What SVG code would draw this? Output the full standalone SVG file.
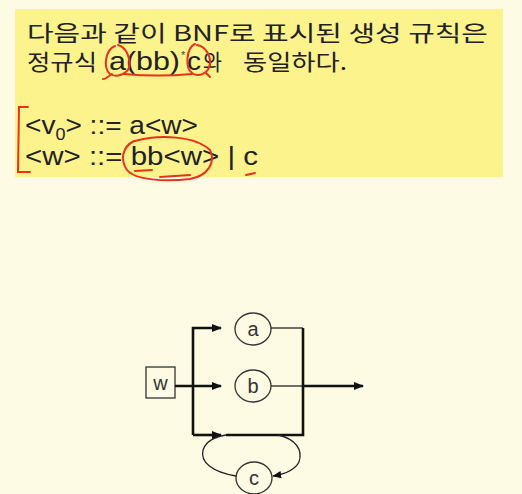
<svg xmlns="http://www.w3.org/2000/svg" width="522" height="494" viewBox="0 0 522 494">
<defs>
<style>
.ko{font-family:"Noto Sans CJK KR","Noto Sans",sans-serif;font-size:22px;fill:#222}
.la{font-family:"Liberation Sans",Arial,sans-serif;font-size:25px;fill:#222}
.sm{font-family:"Liberation Sans",Arial,sans-serif;font-size:11px;fill:#444}
.nl{font-family:"Liberation Sans",Arial,sans-serif;font-size:20px;fill:#333;text-anchor:middle}
.red{fill:none;stroke:#e8321e;stroke-width:2;stroke-linecap:round}
.thick{fill:none;stroke:#111;stroke-width:2.6}
.thin{fill:none;stroke:#222;stroke-width:1.3}
.node{fill:none;stroke:#333;stroke-width:1.3}
</style>
<marker id="ah" viewBox="0 0 10 10" refX="9" refY="5" markerWidth="4" markerHeight="4" orient="auto" markerUnits="strokeWidth">
<path d="M0,1 L10,5 L0,9 z" fill="#111"/>
</marker>
<marker id="ah2" viewBox="0 0 10 10" refX="9" refY="5" markerWidth="7" markerHeight="7" orient="auto" markerUnits="strokeWidth">
<path d="M0,1 L10,5 L0,9 z" fill="#111"/>
</marker>
</defs>
<rect width="522" height="494" fill="#fdfbe3"/>
<rect x="15" y="9" width="488" height="168" fill="#fcf38c"/>

<g id="text">
<text class="ko" x="27" y="41" textLength="461" lengthAdjust="spacingAndGlyphs">다음과 같이 BNF로 표시된 생성 규칙은</text>
<text class="ko" x="27" y="70" textLength="70" lengthAdjust="spacingAndGlyphs">정규식</text>
<text class="la" x="109" y="70" textLength="71" lengthAdjust="spacingAndGlyphs">a(bb)</text>
<text class="sm" x="181" y="59">*</text>
<text class="la" x="187" y="70" textLength="14" lengthAdjust="spacingAndGlyphs">c</text>
<text class="ko" x="203" y="70" textLength="19" lengthAdjust="spacingAndGlyphs">와</text>
<text class="ko" x="243" y="70" textLength="104" lengthAdjust="spacingAndGlyphs">동일하다.</text>
<text class="la" x="25" y="134" textLength="173" lengthAdjust="spacingAndGlyphs">&lt;v<tspan style="font-size:16px" dy="6">0</tspan><tspan dy="-6">&gt; ::= a&lt;w&gt;</tspan></text>
<text class="la" x="25" y="165" textLength="233" lengthAdjust="spacingAndGlyphs">&lt;w&gt; ::= bb&lt;w&gt; | c</text>
</g>

<g id="annotations">
<path class="red" d="M28,107 L19,107 L18,172 L30,172"/>
<path class="red" d="M115,46 C105,50 103,68 110,74 C117,78 126,74 129,68 C131,58 126,47 118,45"/>
<path class="red" d="M112,74 C106,78 104,80 103,79"/>
<path class="red" d="M124,74 C145,76 170,76 192,74"/>
<path class="red" d="M195,44 C186,48 185,68 192,73 C199,78 208,73 210,65 C211,55 205,46 197,45 M206,73 L210,77"/>
<path class="red" d="M135,141 C160,134 195,136 210,150 C216,162 208,176 190,179 C165,182 135,180 127,170 C120,160 122,147 134,141"/>
<path class="red" d="M135,171 L152,170 M160,177 L190,175"/>
<path class="red" d="M246,175 L255,173"/>
</g>

<g id="w">
<rect class="node" x="146" y="367" width="29" height="31"/>
<text class="nl" x="160.5" y="390">w</text>
</g>
<g id="a">
<ellipse class="node" cx="253" cy="329" rx="18" ry="16"/>
<text class="nl" x="253" y="336">a</text>
</g>
<g id="b">
<ellipse class="node" cx="253" cy="386" rx="18" ry="16"/>
<text class="nl" x="253" y="393">b</text>
</g>
<g id="c">
<ellipse class="node" cx="254" cy="478" rx="18" ry="16"/>
<text class="nl" x="254" y="485">c</text>
</g>

<g id="connectors">
<path class="thick" d="M175,386 L221,386" marker-end="url(#ah)"/>
<path class="thick" d="M193,435 L193,328 L221,328" marker-end="url(#ah)"/>
<path class="thick" d="M193,435 L221,435" marker-end="url(#ah)"/>
<path class="thin" d="M271,328 L303,328"/>
<path class="thin" d="M271,386 L303,386"/>
<path class="thick" d="M303,328 L303,435 L226,435"/>
<path class="thick" d="M303,386 L363,386" marker-end="url(#ah)"/>
<path class="thin" d="M236,476 C212,472 200,462 203,450 C206,440 218,436 226,435"/>
<path class="thin" d="M278,435 C296,439 303,450 299,462 C295,470 285,474 273,476" marker-end="url(#ah2)"/>
</g>
</svg>
